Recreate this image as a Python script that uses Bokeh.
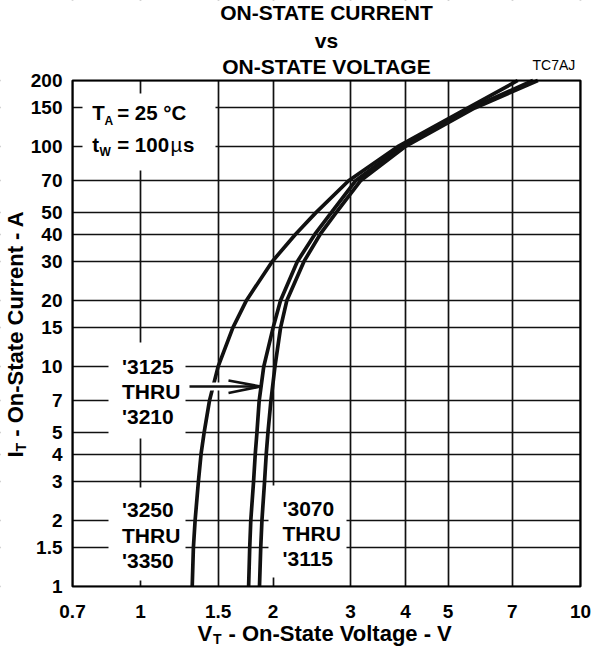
import math
from bokeh.plotting import figure
from bokeh.models import FixedTicker, Grid, Label, BoxAnnotation, Arrow, Range1d
from bokeh.embed import file_html
from bokeh.resources import INLINE

# ---------------- data ----------------
current_A = [1, 1.5, 2, 3, 4, 5, 7, 10, 15, 20, 30, 40, 50, 70, 100, 150, 200]
v_3250_3350 = [1.31, 1.318, 1.33, 1.353, 1.372, 1.394, 1.434, 1.50, 1.62, 1.74,
               1.99, 2.25, 2.50, 2.97, 3.84, 5.55, 7.2]
v_3125_3210 = [1.76, 1.77, 1.78, 1.806, 1.822, 1.838, 1.86, 1.905, 2.0, 2.08,
               2.27, 2.49, 2.71, 3.08, 3.92, 5.65, 7.8]
v_3070_3115 = [1.863, 1.875, 1.887, 1.913, 1.93, 1.947, 1.978, 2.02, 2.08, 2.15,
               2.35, 2.56, 2.78, 3.16, 3.99, 5.75, 8.0]

x_ticks = [0.7, 1, 1.5, 2, 3, 4, 5, 7, 10]
x_tick_labels = ["0.7", "1", "1.5", "2", "3", "4", "5", "7", "10"]
y_ticks = [1, 1.5, 2, 3, 4, 5, 7, 10, 15, 20, 30, 40, 50, 70, 100, 150, 200]
y_tick_labels = ["1", "1.5", "2", "3", "4", "5", "7", "10", "15", "20", "30",
                 "40", "50", "70", "100", "150", "200"]

FONT = "Liberation Sans"

# ---------------- layout (canvas pixels) ----------------
W, H = 593, 646
FL, FR, FT, FB = 72, 580, 80, 586          # plot box inside the canvas
X0, X1 = x_ticks[0], x_ticks[-1]
Y0, Y1 = y_ticks[0], y_ticks[-1]
kx = (FR - FL) / (math.log10(X1) - math.log10(X0))
ky = (FB - FT) / (math.log10(Y1) - math.log10(Y0))
x_lo = 10 ** (math.log10(X0) - FL / kx)
x_hi = 10 ** (math.log10(X1) + (W - FR) / kx)
y_lo = 10 ** (math.log10(Y0) - (H - FB) / ky)
y_hi = 10 ** (math.log10(Y1) + FT / ky)

p = figure(width=W, height=H, x_axis_type="log", y_axis_type="log",
           x_range=Range1d(x_lo, x_hi), y_range=Range1d(y_lo, y_hi),
           x_axis_location=None, y_axis_location=None,
           output_backend="svg", toolbar_location=None, title=None,
           min_border=0)
p.background_fill_color = "white"
p.border_fill_color = "white"
p.outline_line_color = None
p.grid.visible = False


def sx(x):
    return x


def sy(y):
    return H - y


# grid from the tick arrays
for dim, ticks in ((0, x_ticks), (1, y_ticks)):
    p.add_layout(Grid(dimension=dim, ticker=FixedTicker(ticks=ticks),
                      grid_line_color="#111111", grid_line_width=1.7,
                      grid_line_alpha=1.0))


def white_box(l, t, r, b):
    p.add_layout(BoxAnnotation(left=sx(l), right=sx(r), top=sy(t), bottom=sy(b),
                               left_units="screen", right_units="screen",
                               top_units="screen", bottom_units="screen",
                               fill_color="white", fill_alpha=1.0,
                               line_color=None, level="underlay"))


# keep the grid inside the plot box
for box in [(0, 0, FL, H), (FR, 0, W, H), (0, 0, W, FT), (0, FB, W, H)]:
    white_box(*box)
# white label boxes that interrupt the grid
for box in [(82, 93, 215, 170), (108, 342, 185, 438),
            (108, 487, 185, 580), (268, 485, 346, 577)]:
    white_box(*box)

# curves
for v in (v_3250_3350, v_3125_3210, v_3070_3115):
    p.line(v, current_A, line_color="#111111", line_width=3.7, line_join="round")

# plot box outline
p.add_layout(BoxAnnotation(left=X0, right=X1, bottom=Y0, top=Y1,
                           fill_color=None, fill_alpha=0.0,
                           line_color="black", line_width=2.2, line_alpha=1.0))

# tick labels
for t, s in zip(x_ticks, x_tick_labels):
    p.add_layout(Label(x=t, y=sy(610.5), x_units="data", y_units="screen", text=s,
                       text_font=FONT, text_font_size="19px",
                       text_font_style="bold", text_align="center",
                       text_baseline="middle", text_color="black"))
for t, s in zip(y_ticks, y_tick_labels):
    p.add_layout(Label(x=sx(62), y=t, x_units="screen", y_units="data", text=s,
                       text_font=FONT, text_font_size="19px",
                       text_font_style="bold", text_align="right",
                       text_baseline="middle", text_color="black"))


def lab(text, x, y, size, style="bold", align="left", angle=0.0):
    """text whose visual middle is at canvas pixel (x, y)"""
    p.add_layout(Label(x=sx(x), y=sy(y), x_units="screen", y_units="screen",
                       text=text, text_font=FONT, text_font_size=f"{size}px",
                       text_font_style=style, text_align=align,
                       text_baseline="middle", angle=angle, text_color="black"))


# title
lab("ON-STATE CURRENT", 326, 12, 21, align="center")
lab("vs", 326, 39.5, 21, align="center")
lab("ON-STATE VOLTAGE", 326, 66, 21, align="center")
lab("TC7AJ", 532, 64.3, 14, style="normal")

# conditions
lab("T", 91.7, 112.2, 20.5)
lab("A", 104.0, 120.8, 12)
lab("= 25 °C", 116.7, 112.2, 20.5)
lab("t", 91.7, 144.3, 20.5)
lab("W", 99.0, 151.7, 12)
lab("= 100", 116.7, 144.3, 20.5)
lab("µ", 170, 144.3, 20.5, style="normal")
lab("s", 182.5, 144.3, 20.5)

# device group labels
for i, s in enumerate(["'3125", "THRU", "'3210"]):
    lab(s, 121.5, 365.5 + 25.2 * i, 21)
for i, s in enumerate(["'3250", "THRU", "'3350"]):
    lab(s, 121.5, 509 + 25.5 * i, 21)
for i, s in enumerate(["'3070", "THRU", "'3115"]):
    lab(s, 282, 508 + 25 * i, 21)

# arrow ('3125 THRU '3210 -> middle curve)
p.add_layout(Arrow(end=None, x_start=sx(193), y_start=sy(386), x_end=sx(250),
                   y_end=sy(386), start_units="screen", end_units="screen",
                   line_color="white", line_width=8))
for (x0, y0) in [(189, 386), (228, 380), (228, 392.5)]:
    p.add_layout(Arrow(end=None, x_start=sx(x0), y_start=sy(y0), x_end=sx(260),
                       y_end=sy(386), start_units="screen", end_units="screen",
                       line_color="#111111", line_width=2.6))

# axis titles (text pieces so that the subscripts stay real text)
lab("V", 197, 632.5, 22)
lab("T", 212.5, 638, 14)
lab("- On-State Voltage - V", 228, 632.5, 22)

ang = math.pi / 2
lab("I", 14.5, 457, 22, angle=ang)
lab("T", 20, 450.9, 14, angle=ang)
lab("- On-State Current - A", 14.5, 436.2, 22, angle=ang)

open("out.html", "w").write(file_html(p, INLINE))
